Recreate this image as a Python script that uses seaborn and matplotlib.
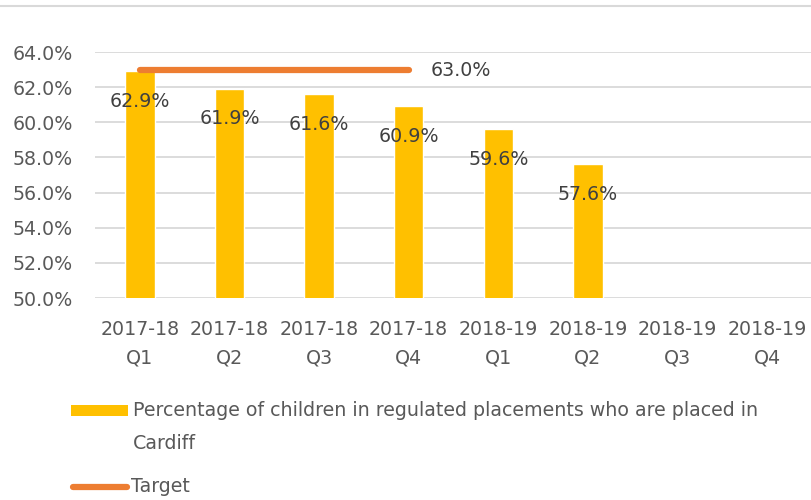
import numpy as np
import pandas as pd
import matplotlib
matplotlib.use("Agg")
import matplotlib.pyplot as plt
import seaborn as sns
from matplotlib.patches import Rectangle
from matplotlib.lines import Line2D

categories = ["2017-18\nQ1", "2017-18\nQ2", "2017-18\nQ3", "2017-18\nQ4",
              "2018-19\nQ1", "2018-19\nQ2", "2018-19\nQ3", "2018-19\nQ4"]
values = [62.9, 61.9, 61.6, 60.9, 59.6, 57.6, np.nan, np.nan]
target = [63.0, 63.0, 63.0, 63.0, np.nan, np.nan, np.nan, np.nan]
yticks = [50, 52, 54, 56, 58, 60, 62, 64]
bar_name = "Percentage of children in regulated placements who are placed in\nCardiff"
target_name = "Target"

BAR = "#FFC000"
LINE = "#ED7D31"
TXT = "#595959"
LBL = "#404040"
FS = 13.7

sns.set_theme(style="white")
plt.rcParams['font.family'] = ['DejaVu Sans']

df = pd.DataFrame({"cat": categories, "val": values, "target": target})
df["pos"] = np.arange(len(categories))

W, H = 812, 500
fig = plt.figure(figsize=(W/100, H/100), dpi=100)
ax = fig.add_axes([95/W, 1-298/H, 1-95/W, (298-52)/H])

sns.barplot(data=df, x="cat", y="val", order=categories, color=BAR,
            saturation=1, width=0.33, ax=ax, zorder=2)
tdf = df.dropna(subset=["target"])
sns.lineplot(data=tdf, x="pos", y="target", color=LINE, linewidth=4.5,
             solid_capstyle="round", ax=ax, zorder=3)

ax.set_ylim(50, 64)
ax.set_xlim(-0.5, len(categories) - 0.5)
ax.set_yticks(yticks)
ax.set_yticklabels([f"{v:.1f}%" for v in yticks], fontsize=FS, color=TXT)
ax.set_xticks(range(len(categories)))
ax.set_xticklabels(categories, fontsize=FS, color=TXT, linespacing=1.6)
ax.set_xlabel("")
ax.set_ylabel("")
ax.tick_params(axis="x", length=0, pad=16)
ax.tick_params(axis="y", length=0, pad=16)
ax.grid(axis="y", color="#D9D9D9", linewidth=1.3, zorder=0)
ax.set_axisbelow(True)
for s in ax.spines.values():
    s.set_visible(False)

# bar data labels
for i, v in enumerate(values):
    if not np.isnan(v):
        ax.annotate(f"{v:.1f}%", xy=(i, v), xytext=(0, -21.5), textcoords="offset points",
                    ha="center", va="center", fontsize=FS, color=LBL, zorder=4)
# target label at last point
last = tdf.iloc[-1]
ax.annotate(f"{last['target']:.1f}%", xy=(last["pos"], last["target"]),
            xytext=(16, -1), textcoords="offset points", ha="left", va="center",
            fontsize=FS, color=LBL)

# legend (drawn in figure pixels)
def fy(y):
    return 1 - y / H
fig.add_artist(Rectangle((71/W, fy(416)), 57/W, 11/H, facecolor=BAR,
                         edgecolor="none", transform=fig.transFigure))
fig.text(133/W, fy(401), bar_name, ha="left", va="top", fontsize=FS,
         color=TXT, linespacing=1.95)
fig.add_artist(Line2D([73/W, 127/W], [fy(487), fy(487)], color=LINE, linewidth=4.5,
                      solid_capstyle="round", transform=fig.transFigure))
fig.text(131/W, fy(487), target_name, ha="left", va="center", fontsize=FS, color=TXT)

fig.add_artist(Line2D([0, 1], [fy(6), fy(6)], color="#D9D9D9", linewidth=1.5,
                      transform=fig.transFigure))

fig.savefig("out.png", dpi=100, facecolor="white")
